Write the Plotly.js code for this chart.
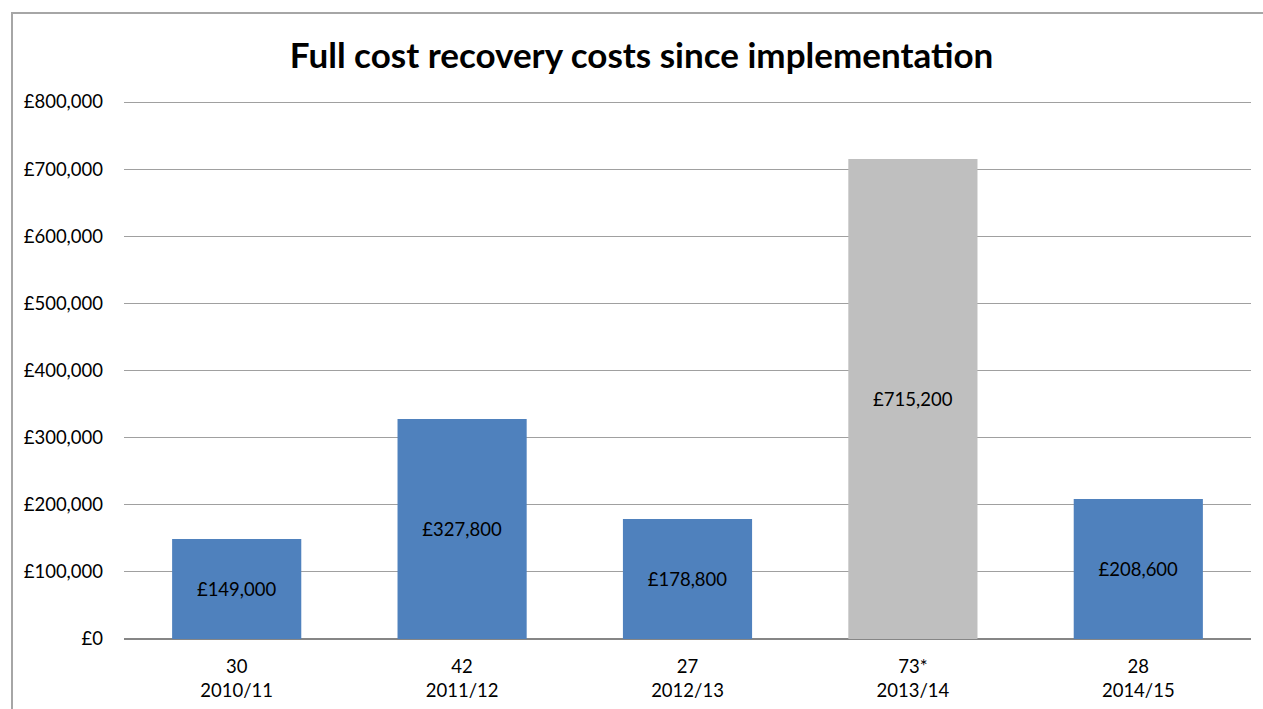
<!DOCTYPE html>
<html>
<head>
<meta charset="utf-8">
<script src="https://cdn.plot.ly/plotly-3.0.1.min.js"></script>
<style>
html,body{margin:0;padding:0;background:#fff;overflow:hidden;}
#frame{position:absolute;left:11px;top:12px;width:1300px;height:800px;border:2px solid #a6a6a6;box-sizing:border-box;pointer-events:none;z-index:5;}
#chart{position:absolute;left:0;top:0;width:1263px;height:709px;}
</style>
</head>
<body>
<div id="chart"></div>
<div id="frame"></div>
<script>
const years = ["2010/11","2011/12","2012/13","2013/14","2014/15"];
const counts = ["30","42","27","73*","28"];
const costs = [149000, 327800, 178800, 715200, 208600];
const barColors = ["#4F81BD","#4F81BD","#4F81BD","#BFBFBF","#4F81BD"];
const yTicks = [0,100000,200000,300000,400000,500000,600000,700000,800000];

const fmt = v => "£" + v.toLocaleString("en-GB");
const cats = years.map((y,i)=>counts[i]+"<br>"+y);
const FONT = "Lato, 'Liberation Sans', sans-serif";

const trace = {
  type:"bar",
  x: cats,
  y: costs,
  marker:{color:barColors, line:{width:0}},
  text: costs.map(fmt),
  textposition:"inside",
  insidetextanchor:"middle",
  textangle:0,
  textfont:{family:FONT, size:18.5, color:"#000"},
  hoverinfo:"none"
};

const layout = {
  width:1263, height:709,
  margin:{l:124, r:12, t:100, b:70},
  paper_bgcolor:"#fff", plot_bgcolor:"#fff",
  showlegend:false,
  bargap:0.427,
  title:{text:"<b>Full cost recovery costs since implementation</b>", x:0.508, xanchor:"center", y:0.922, yanchor:"middle",
         font:{family:FONT, size:35, color:"#000"}},
  font:{family:FONT, size:18.5, color:"#000"},
  xaxis:{type:"category", showgrid:false, zeroline:false, showline:false, ticks:"", tickfont:{size:18.5}, ticklabelstandoff:14, fixedrange:true},
  yaxis:{range:[0,803000], tickvals:yTicks, ticktext:yTicks.map(fmt), showgrid:true, gridcolor:"#a0a0a0", gridwidth:1,
         zeroline:true, zerolinecolor:"#868686", zerolinewidth:2, showline:false, ticks:"", ticklabelstandoff:20,
         tickfont:{size:18.5}, fixedrange:true}
};

Plotly.newPlot("chart",[trace],layout,{displayModeBar:false, staticPlot:true});
</script>
</body>
</html>
